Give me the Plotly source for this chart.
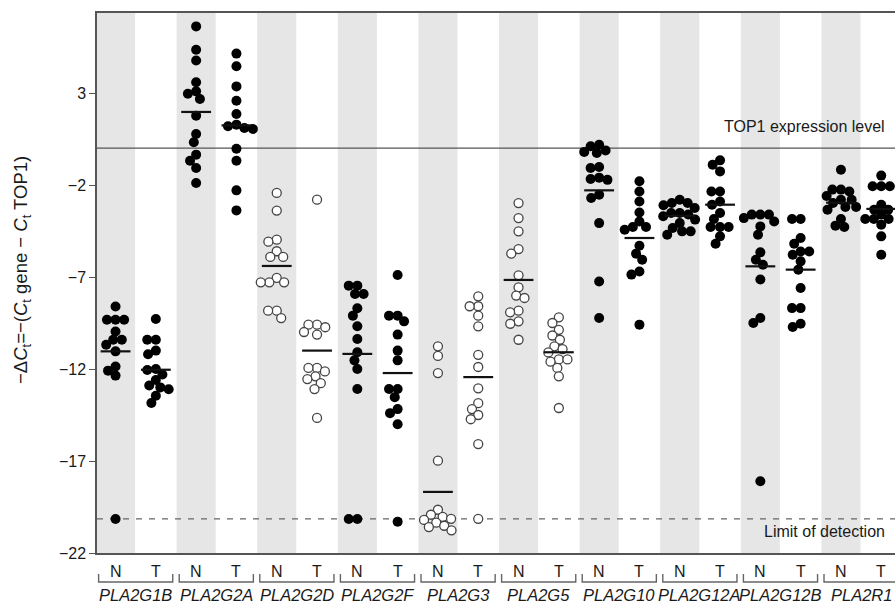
import math
import plotly.graph_objects as go

# ---------------- data ----------------
genes = ["PLA2G1B", "PLA2G2A", "PLA2G2D", "PLA2G2F", "PLA2G3",
         "PLA2G5", "PLA2G10", "PLA2G12A", "PLA2G12B", "PLA2R1"]
open_marker = [False, False, True, False, True, True, False, False, False, False]

g1b_N = [-8.6, -9.32, -9.32, -9.32, -9.96, -10.41, -10.41, -10.68, -11.04, -11.86, -12.09, -12.36, -20.15]
g1b_T = [-9.28, -10.41, -10.41, -11.0, -11.2, -12.0, -12.05, -12.3, -12.6, -12.9, -13.0, -13.1, -13.45, -13.85]
g2a_N = [6.62, 5.35, 4.77, 3.58, 3.09, 2.96, 2.67, 1.77, 0.77, 0.32, -0.35, -0.68, -1.08, -1.89]
g2a_T = [5.14, 4.45, 3.36, 2.58, 1.86, 1.28, 1.19, 1.10, 1.04, -0.03, -0.68, -2.29, -3.38]
g2d_N = [-2.43, -3.39, -4.97, -5.08, -5.60, -5.91, -5.91, -7.05, -7.29, -7.29, -7.29, -8.83, -8.83, -9.23]
g2d_T = [-2.80, -9.59, -9.59, -9.73, -9.99, -10.13, -11.94, -11.94, -12.13, -12.40, -12.55, -12.77, -13.09, -14.66]
g2f_N = [-7.47, -7.47, -7.92, -7.92, -8.70, -9.10, -9.68, -10.37, -11.09, -11.53, -12.0, -13.09, -20.15, -20.15]
g2f_T = [-6.89, -9.10, -9.10, -9.41, -10.13, -11.0, -11.53, -13.09, -13.09, -13.53, -14.18, -14.4, -15.0, -20.3]
g3_N = [-10.77, -11.29, -12.22, -16.98, -19.65, -19.92, -20.04, -20.14, -20.2, -20.35, -20.52, -20.59, -20.77]
g3_T = [-8.05, -8.59, -8.59, -9.10, -9.68, -11.23, -11.89, -13.05, -13.86, -14.18, -14.5, -14.73, -16.08, -20.14]
g5_N = [-2.98, -3.80, -4.52, -5.48, -5.73, -6.91, -7.56, -8.01, -8.14, -8.83, -8.92, -9.41, -9.54, -10.41]
g5_T = [-9.19, -9.5, -9.87, -10.18, -10.41, -10.77, -10.92, -11.1, -11.48, -11.48, -11.6, -11.94, -12.4, -14.12]
g10_N = [0.19, 0.11, -0.12, -0.2, -0.26, -1.02, -1.08, -1.6, -1.67, -1.72, -2.53, -2.71, -4.07, -7.24, -9.23]
g10_T = [-1.80, -2.35, -2.90, -3.49, -3.98, -4.28, -4.28, -4.43, -5.30, -5.73, -6.06, -6.70, -6.87, -9.59]
g12a_N = [-2.80, -2.98, -2.98, -3.1, -3.25, -3.52, -3.52, -3.6, -3.70, -3.88, -4.07, -4.34, -4.52, -4.52, -4.70]
g12a_T = [-0.66, -0.90, -1.26, -2.35, -2.35, -2.90, -3.07, -3.52, -3.85, -4.28, -4.28, -4.28, -4.79, -5.19]
g12b_N = [-3.61, -3.61, -3.61, -3.8, -3.98, -4.25, -4.70, -5.66, -6.06, -6.33, -7.14, -9.23, -9.50, -18.1]
g12b_T = [-3.85, -3.85, -4.88, -5.19, -5.61, -5.61, -5.79, -6.15, -6.60, -7.60, -8.69, -8.69, -9.54, -9.72]
r1_N = [-1.17, -2.25, -2.25, -2.35, -2.6, -2.80, -2.80, -2.98, -3.20, -3.20, -3.34, -3.85, -4.21, -4.28]
r1_T = [-1.49, -2.07, -2.07, -2.07, -3.07, -3.34, -3.34, -3.61, -3.85, -3.85, -3.85, -4.16, -4.79, -5.79]

median_N = [-11.04, 1.97, -6.40, -11.18, -18.68, -7.16, -2.29, -3.67, -6.42, -2.96]
median_T = [-12.04, 1.24, -11.0, -12.22, -12.44, -11.09, -4.88, -3.07, -6.60, -3.30]

top1_level = 0.0
detection_limit = -20.15
y_ticks = [3, -2, -7, -12, -17, -22]

values_N = [g1b_N, g2a_N, g2d_N, g2f_N, g3_N, g5_N, g10_N, g12a_N, g12b_N, r1_N]
values_T = [g1b_T, g2a_T, g2d_T, g2f_T, g3_T, g5_T, g10_T, g12a_T, g12b_T, r1_T]

# ---------------- layout geometry ----------------
W, H = 895, 604
ML, MR, MT, MB = 97, 0, 13, 51
PW, PH = W - ML - MR, H - MT - MB
X0 = -0.46
XPX = 40.3
X1 = X0 + PW / XPX
Y0 = -22.0
YPX = 18.4
Y1 = Y0 + PH / YPX

FONT = "Liberation Sans, Arial, Helvetica, sans-serif"
TXT = "#1a1a1a"
AX = "#555555"


def swarm(vals, diam=8.6):
    """Simple beeswarm: horizontal offsets (in x data units)."""
    order = sorted(range(len(vals)), key=lambda k: -vals[k])
    placed = []
    offs = [0.0] * len(vals)
    for k in order:
        y = vals[k] * YPX
        cands = [0.0]
        for px, py in placed:
            dy = abs(py - y)
            if dy < diam:
                dx = math.sqrt(diam ** 2 - dy ** 2)
                cands += [px + dx, px - dx]
        cands.sort(key=lambda c: (abs(c), c))
        chosen = cands[-1]
        for c in cands:
            if all((c - px) ** 2 + (y - py) ** 2 >= diam ** 2 - 1e-6 for px, py in placed):
                chosen = c
                break
        placed.append((chosen, y))
        offs[k] = chosen / XPX
    return offs


fig = go.Figure()
shapes = []
annotations = []

# grey stripes behind the N columns
for g in range(len(genes)):
    c = 2 * g
    shapes.append(dict(type="rect", xref="x", yref="paper", x0=c - 0.485, x1=c + 0.485,
                       y0=0, y1=1, fillcolor="#e6e6e6", line=dict(width=0), layer="below"))

# reference lines
shapes.append(dict(type="line", xref="paper", yref="y", x0=0, x1=1, y0=top1_level, y1=top1_level,
                   line=dict(color="#555555", width=1.2), layer="below"))
shapes.append(dict(type="line", xref="paper", yref="y", x0=0, x1=1, y0=detection_limit, y1=detection_limit,
                   line=dict(color="#666666", width=1.2, dash="6px,7px"), layer="below"))

for g, name in enumerate(genes):
    for j, (vals, med) in enumerate(((values_N[g], median_N[g]), (values_T[g], median_T[g]))):
        col = 2 * g + j
        offs = swarm(vals)
        xs = [col + o for o in offs]
        if open_marker[g]:
            marker = dict(size=9, color="white", line=dict(color="#444444", width=1.3), symbol="circle")
        else:
            marker = dict(size=10, color="black", line=dict(width=0), symbol="circle")
        fig.add_trace(go.Scatter(x=xs, y=vals, mode="markers", marker=marker,
                                 showlegend=False, hoverinfo="y", cliponaxis=False))
        fig.add_trace(go.Scatter(x=[col - 0.37, col + 0.37], y=[med, med], mode="lines",
                                 line=dict(color="#111111", width=2.2), showlegend=False,
                                 hoverinfo="skip"))
        annotations.append(dict(text="N" if j == 0 else "T", xref="x", yref="paper", x=col, y=0,
                                yanchor="top", xanchor="center", yshift=-8, showarrow=False,
                                font=dict(family=FONT, size=16, color=TXT)))
    # bracket under each gene
    a, b = 2 * g - 0.42, 2 * g + 1.42
    yb, yt = -29 / PH, -21 / PH
    shapes.append(dict(type="path", xref="x", yref="paper",
                       path=f"M {a},{yt} L {a},{yb} L {b},{yb} L {b},{yt}",
                       line=dict(color="#666666", width=1.4)))
    annotations.append(dict(text=f"<i>{name}</i>", xref="x", yref="paper", x=2 * g + 0.5, y=0,
                            yanchor="top", xanchor="center", yshift=-32, borderpad=0,
                            showarrow=False, font=dict(family=FONT, size=16.5, color=TXT)))

annotations.append(dict(text="TOP1 expression level", xref="paper", yref="y", x=(887 - ML) / PW,
                        y=top1_level, xanchor="right", yanchor="bottom", yshift=11, showarrow=False,
                        font=dict(family=FONT, size=16, color=TXT)))
annotations.append(dict(text="Limit of detection", xref="paper", yref="y", x=(887 - ML) / PW,
                        y=detection_limit, xanchor="right", yanchor="top", yshift=-2, showarrow=False,
                        font=dict(family=FONT, size=16, color=TXT)))
annotations.append(dict(text="\u2212\u0394<i>C</i><sub>t</sub>=\u2212(<i>C</i><sub>t</sub> gene \u2212 <i>C</i><sub>t</sub> TOP1)",
                        xref="paper", yref="paper", x=(22 - ML) / PW, y=(MT + PH - 270) / PH,
                        xanchor="center", yanchor="middle", textangle=-90, showarrow=False,
                        font=dict(family=FONT, size=18.5, color=TXT)))

fig.update_layout(
    width=W, height=H,
    margin=dict(l=ML, r=MR, t=MT, b=MB, pad=0),
    paper_bgcolor="white", plot_bgcolor="white",
    shapes=shapes, annotations=annotations,
    xaxis=dict(range=[X0, X1], showgrid=False, zeroline=False, showticklabels=False,
               ticks="", showline=True, mirror=True, linecolor=AX, linewidth=1.5, fixedrange=True),
    yaxis=dict(range=[Y0, Y1], showgrid=False, zeroline=False, tickmode="array",
               tickvals=y_ticks, ticktext=[str(t).replace("-", "\u2212") for t in y_ticks],
               ticks="outside", ticklen=6, tickwidth=1.3, tickcolor=AX,
               showline=True, linecolor=AX, linewidth=1.5,
               tickfont=dict(family=FONT, size=16, color=TXT), fixedrange=True),
    font=dict(family=FONT, color=TXT),
)

fig.write_html("out.html")
